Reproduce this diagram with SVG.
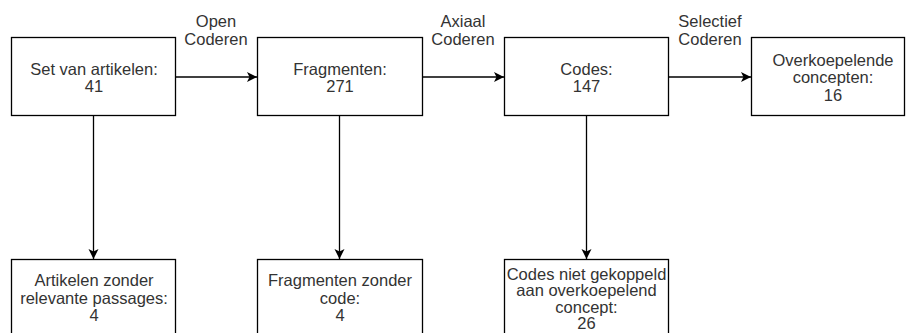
<svg xmlns="http://www.w3.org/2000/svg" width="906" height="333" viewBox="0 0 906 333">
  <style>
    .box { fill: #ffffff; stroke: #000000; stroke-width: 1.3; }
    .edge { fill: none; stroke: #000000; stroke-width: 1.3; }
    text { font-family: "Liberation Sans", Arial, sans-serif; font-size: 16.5px; fill: #333333; text-anchor: middle; }
  </style>
  <defs>
    <marker id="arrow" markerUnits="userSpaceOnUse" markerWidth="12" markerHeight="12" refX="10" refY="5" orient="auto">
      <path d="M0,0 L10,5 L0,10 L2.5,5 Z" fill="#000000"/>
    </marker>
  </defs>
  <rect width="906" height="333" fill="#ffffff"/>

  <!-- connectors -->
  <g id="connectors">
    <line class="edge" x1="175.5" y1="77" x2="257" y2="77" marker-end="url(#arrow)"/>
    <line class="edge" x1="422.5" y1="77" x2="504" y2="77" marker-end="url(#arrow)"/>
    <line class="edge" x1="668.5" y1="77" x2="751" y2="77" marker-end="url(#arrow)"/>
    <line class="edge" x1="93.5" y1="115.5" x2="93.5" y2="259" marker-end="url(#arrow)"/>
    <line class="edge" x1="339.5" y1="115.5" x2="339.5" y2="259" marker-end="url(#arrow)"/>
    <line class="edge" x1="586.5" y1="115.5" x2="586.5" y2="259" marker-end="url(#arrow)"/>
    <g id="edge-labels">
      <text x="216" y="27">Open</text>
      <text x="216" y="44.5">Coderen</text>
      <text x="463" y="27">Axiaal</text>
      <text x="463" y="44.5">Coderen</text>
      <text x="710" y="27">Selectief</text>
      <text x="710" y="44.5">Coderen</text>
    </g>
  </g>

  <!-- top row -->
  <g id="artikelen">
    <rect class="box" x="11.5" y="37.5" width="164" height="78"/>
    <text x="94" y="75">Set van artikelen:</text>
    <text x="94" y="92">41</text>
  </g>
  <g id="fragmenten">
    <rect class="box" x="257.5" y="37.5" width="165" height="78"/>
    <text x="340" y="75">Fragmenten:</text>
    <text x="340" y="92">271</text>
  </g>
  <g id="codes">
    <rect class="box" x="504.5" y="37.5" width="164" height="78"/>
    <text x="586.5" y="75">Codes:</text>
    <text x="586.5" y="92">147</text>
  </g>
  <g id="concepten">
    <rect class="box" x="751.5" y="37.5" width="153" height="78"/>
    <text x="833" y="65.5">Overkoepelende</text>
    <text x="833" y="83">concepten:</text>
    <text x="833" y="100.5">16</text>
  </g>

  <!-- bottom row -->
  <g id="artikelen-zonder">
    <rect class="box" x="11.5" y="259.5" width="164" height="90"/>
    <text x="94" y="286">Artikelen zonder</text>
    <text x="94" y="303.5">relevante passages:</text>
    <text x="94" y="321">4</text>
  </g>
  <g id="fragmenten-zonder">
    <rect class="box" x="257.5" y="259.5" width="165" height="90"/>
    <text x="340" y="286">Fragmenten zonder</text>
    <text x="340" y="303.5">code:</text>
    <text x="340" y="321">4</text>
  </g>
  <g id="codes-niet-gekoppeld">
    <rect class="box" x="504.5" y="259.5" width="164" height="90"/>
    <text x="586.5" y="279.5">Codes niet gekoppeld</text>
    <text x="586.5" y="296">aan overkoepelend</text>
    <text x="586.5" y="312.5">concept:</text>
    <text x="586.5" y="329">26</text>
  </g>
</svg>
